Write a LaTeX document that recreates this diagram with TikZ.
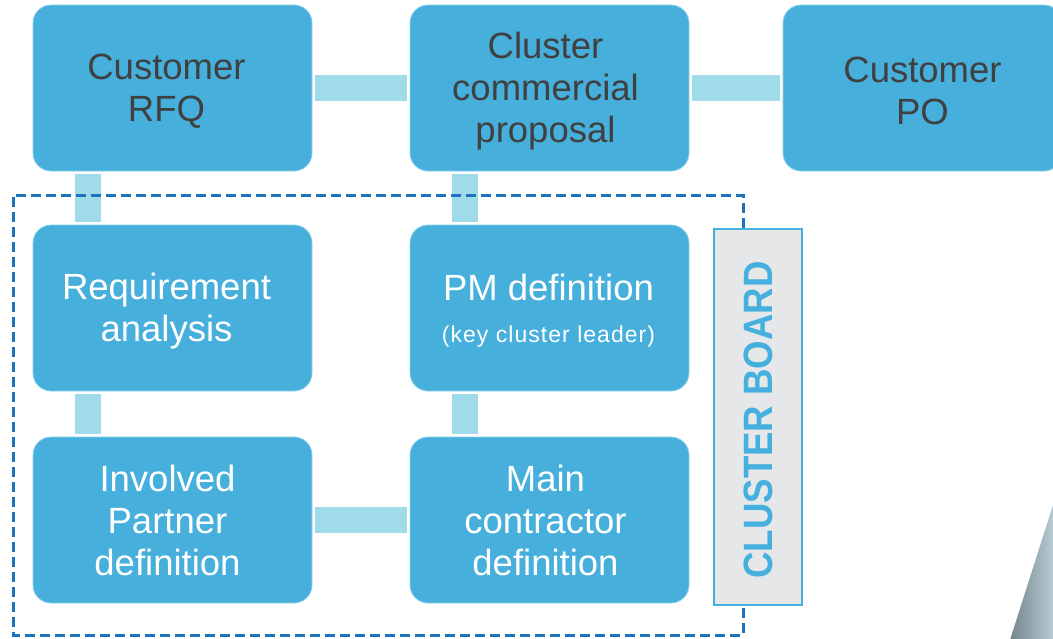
\documentclass[tikz,border=0pt]{standalone}
\usepackage{fontspec}
\setmainfont{Liberation Sans}
\definecolor{boxblue}{HTML}{46AFDC}
\definecolor{boxedge}{HTML}{8CCFEA}
\definecolor{connblue}{HTML}{A0DBE9}
\definecolor{darktext}{HTML}{404040}
\definecolor{dashblue}{HTML}{1E73BE}
\definecolor{boardfill}{HTML}{E6E7E9}
\definecolor{boardblue}{HTML}{45B0DE}
\definecolor{shadedark}{HTML}{76858D}
\definecolor{shadelight}{HTML}{BBD0D8}
\begin{document}
\begin{tikzpicture}[x=1pt,y=-1pt,
  stepbox/.style={draw=boxedge,line width=0.8pt,fill=boxblue,rounded corners=18pt,
    minimum width=279pt,minimum height=166pt,inner sep=0pt},
  boxtext/.style={align=center,inner sep=0pt,font=\fontsize{36.5}{42}\selectfont,text=white},
  toptext/.style={boxtext,text=darktext},
  conn/.style={draw=connblue,line width=26pt,shorten <=3pt,shorten >=3pt},
  border/.style={draw=dashblue,line width=3pt,dash pattern=on 10pt off 5pt}]
\useasboundingbox (0,0) rectangle (1053,638);
\clip (0,0) rectangle (1053,638);
% gray corner shape
\shade[left color=shadedark,right color=shadelight]
  (1010,640) -- (1053,505) -- (1056,505) -- (1056,640) -- cycle;
% boxes
\node[stepbox] (rfq) at (172.5,88) {};
\node[stepbox] (prop) at (549.5,88) {};
\node[stepbox] (po) at (922.5,88) {};
\node[stepbox] (req) at (172.5,308) {};
\node[stepbox] (pm) at (549.5,308) {};
\node[stepbox] (inv) at (172.5,520) {};
\node[stepbox] (main) at (549.5,520) {};
% texts
\node[toptext] (rfqt) at ([shift={(-6pt,-3pt)}]rfq.center) {Customer\\RFQ};
\node[toptext] (propt) at ([shift={(-4pt,-3pt)}]prop.center) {Cluster\\commercial\\proposal};
\node[toptext] (pot) at ([shift={(0pt,-3pt)}]po.center) {Customer\\PO};
\node[boxtext] (reqt) at ([shift={(-6pt,-3pt)}]req.center) {Requirement\\analysis};
\node[boxtext] (pmt) at ([shift={(-1pt,21pt)}]pm.center) {PM definition};
\node[boxtext,font=\fontsize{23}{26}\selectfont\addfontfeature{LetterSpace=4.5}] (pms) at ([shift={(-1pt,-29pt)}]pm.center) {(key cluster leader)};
\node[boxtext] (invt) at ([shift={(-5pt,0pt)}]inv.center) {Involved\\Partner\\definition};
\node[boxtext] (maint) at ([shift={(-4pt,0pt)}]main.center) {Main\\contractor\\definition};
% connectors
\draw[conn] (rfq.east) -- (prop.west);
\draw[conn] (prop.east) -- (po.west);
\draw[conn] (inv.east) -- (main.west);
\draw[conn] ([xshift=-84.5pt]rfq.south) -- ([xshift=-84.5pt]req.north);
\draw[conn] ([xshift=-84.5pt]prop.south) -- ([xshift=-84.5pt]pm.north);
\draw[conn] ([xshift=-84.5pt]req.south) -- ([xshift=-84.5pt]inv.north);
\draw[conn] ([xshift=-84.5pt]pm.south) -- ([xshift=-84.5pt]main.north);
% cluster board
\node[draw=boardblue,line width=2pt,fill=boardfill,minimum width=88pt,minimum height=376pt,inner sep=0pt] (cb) at (758,417) {};
\node[rotate=90,text=boardblue,font=\bfseries\fontsize{36.6}{40}\selectfont] (cbt) at ([yshift=-3pt]cb.center) {\scalebox{1}[1.12]{CLUSTER BOARD}};
\coordinate (ctop) at ([xshift=-15pt]cb.north);
\coordinate (cbot) at ([xshift=-15pt]cb.south);
\draw[border] (ctop) -- (ctop |- 0,195) -- (13,195) -- (13,635) -- (cbot |- 0,635) -- (cbot);
\end{tikzpicture}
\end{document}
